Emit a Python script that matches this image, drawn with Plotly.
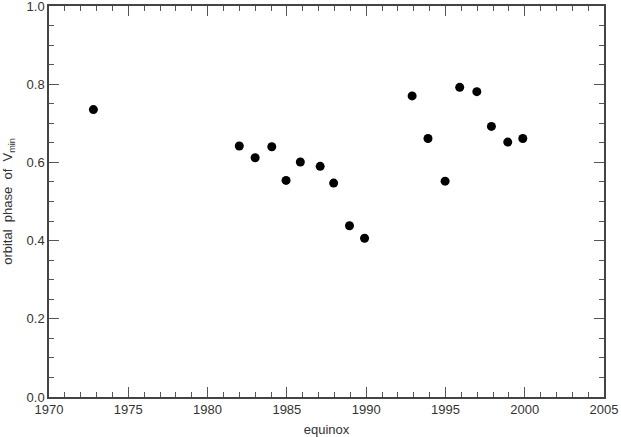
import plotly.graph_objects as go

# equinox years and orbital phase of V_min
years = [1972.8, 1982.0, 1983.0, 1984.05, 1984.95, 1985.85, 1987.1, 1987.95, 1988.95,
         1989.9, 1992.9, 1993.9, 1994.98, 1995.9, 1996.98, 1997.9, 1998.93, 1999.88]
phases = [0.735, 0.642, 0.612, 0.640, 0.554, 0.601, 0.590, 0.547, 0.438,
          0.406, 0.770, 0.661, 0.552, 0.792, 0.781, 0.692, 0.652, 0.661]

x_ticks = [1970, 1975, 1980, 1985, 1990, 1995, 2000, 2005]
y_ticks = [0.0, 0.2, 0.4, 0.6, 0.8, 1.0]

fig = go.Figure(go.Scatter(
    x=years, y=phases, mode='markers',
    marker=dict(color='black', size=9, line=dict(width=0)),
    showlegend=False,
))

axis_common = dict(
    showgrid=False, zeroline=False, automargin=False, ticklabeloverflow='allow',
    showline=True, linecolor='#444', linewidth=1.5, mirror='allticks',
    ticks='inside', ticklen=10, tickcolor='#555', tickwidth=1,
    tickfont=dict(family='Liberation Sans, Arial', size=13, color='#333'),
)

fig.update_layout(
    width=621, height=437,
    margin=dict(l=49, r=17, t=6, b=40),
    plot_bgcolor='white', paper_bgcolor='white',
    font=dict(family='Liberation Sans, Arial', size=13, color='#333'),
    xaxis=dict(
        range=[1970, 2005], tickvals=x_ticks, ticktext=[str(v) for v in x_ticks],
        minor=dict(dtick=1, tick0=1970, ticks='inside', ticklen=5, tickcolor='#555'),
        title=dict(text='equinox', font=dict(size=13)),
        **axis_common,
    ),
    yaxis=dict(
        range=[0, 1], tickvals=y_ticks, ticktext=[f'{v:.1f}' for v in y_ticks],
        minor=dict(dtick=0.05, tick0=0, ticks='inside', ticklen=5, tickcolor='#555'),
        title=dict(text='orbital  phase  of  V<sub>min</sub>', font=dict(size=13)),
        **axis_common,
    ),
)

# drop the default page margin so the figure sits at the window's corner
fig.write_html("out.html", config={'displayModeBar': False},
               post_script="document.body.style.margin='0';")
